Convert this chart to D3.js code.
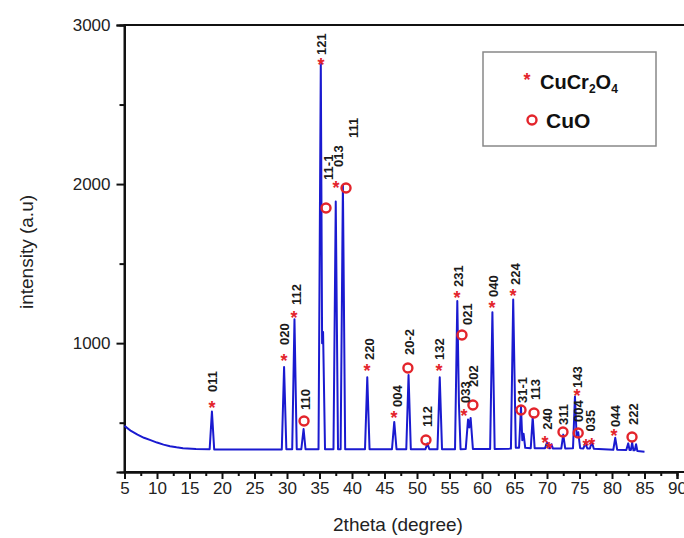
<!DOCTYPE html>
<html>
<head>
<meta charset="utf-8">
<script src="https://cdn.jsdelivr.net/npm/d3@7"></script>
<style>
  body { margin: 0; background: #fff; }
  svg { font-family: "Liberation Sans", Arial, sans-serif; }
</style>
</head>
<body>
<div id="container"></div>
<script>
/* CONSTANTS AND GLOBALS */
const width = 684,
  height = 538,
  margin = { top: 25, bottom: 66, left: 124.5, right: 7 },
  colors = { line: "#1a1ad0", mark: "#e3242b", axis: "#111" };

/* DATA */
// diffractogram: [2theta, intensity]
const spectrum = [
  [5, 480], [6, 448], [7, 425], [8, 405], [9, 390], [10, 375], [11, 362], [12, 352],
  [13, 345], [14, 340], [16, 335], [18.1, 333], [18.45, 570], [18.8, 332],
  [29.2, 332], [29.55, 850], [29.9, 333], [30.8, 333], [31.15, 1150], [31.5, 333],
  [32.2, 333], [32.55, 460], [32.85, 333], [34.85, 333], [35.2, 2770], [35.4, 1000],
  [35.55, 1070], [35.85, 333], [37.15, 333], [37.5, 1890], [37.85, 333], [38.25, 333],
  [38.6, 1995], [38.95, 333], [42.0, 333], [42.35, 785], [42.7, 333], [46.15, 333],
  [46.5, 505], [46.85, 333], [48.35, 333], [48.7, 800], [49.05, 333], [51.3, 333],
  [51.6, 370], [51.9, 333], [53.15, 333], [53.5, 785], [53.85, 333], [55.85, 333],
  [56.2, 1265], [56.45, 620], [56.7, 333], [57.5, 335], [57.85, 520], [58.05, 470],
  [58.25, 530], [58.6, 335], [61.25, 335], [61.6, 1195], [61.95, 335], [64.45, 337],
  [64.8, 1275], [65.2, 342], [65.7, 342], [66.0, 600], [66.2, 390], [66.4, 430],
  [66.65, 342], [67.5, 340], [67.8, 535], [68.1, 340], [69.7, 340], [70.0, 375],
  [70.3, 340], [70.5, 340], [70.7, 365], [70.9, 338], [72.2, 338], [72.5, 425],
  [72.8, 338], [74.0, 340], [74.3, 665], [74.55, 420], [74.8, 440], [75.1, 340],
  [75.6, 338], [75.9, 370], [76.2, 338], [76.6, 338], [76.9, 380], [77.2, 336],
  [80.2, 330], [80.5, 405], [80.8, 330], [82.2, 328], [82.5, 370], [82.7, 328],
  [82.9, 328], [83.1, 375], [83.3, 326], [83.5, 326], [83.7, 365], [83.9, 322], [85, 318]
];

// CuCr2O4 reflections: [hkl, marker 2theta, marker intensity, label 2theta, label intensity]
const spinelPeaks = [
  ["011", 18.46, 611, 18.46, 693],
  ["020", 29.54, 907, 29.6, 988],
  ["112", 31.08, 1177, 31.4, 1240],
  ["121", 35.23, 2767, 35.23, 2811],
  ["013", 37.54, 1994, 37.85, 2107],
  ["220", 42.31, 844, 42.6, 894],
  ["004", 46.46, 548, 46.92, 599],
  ["132", 53.38, 844, 53.5, 894],
  ["231", 56.15, 1303, 56.3, 1353],
  ["033", 57.23, 561, 57.38, 624],
  ["040", 61.54, 1240, 61.7, 1290],
  ["224", 64.77, 1315, 65.08, 1366],
  ["240", 69.69, 391, 70.05, 455],
  ["", 70.3, 355, 0, 0],
  ["143", 74.6, 687, 74.6, 718],
  ["", 76.0, 372, 0, 0],
  ["035", 76.9, 379, 76.7, 445],
  ["044", 80.3, 435, 80.46, 473]
];

// CuO reflections
const cuoPeaks = [
  ["110", 32.62, 511, 32.77, 580],
  ["11-1", 36.0, 1850, 36.3, 2026],
  ["111", 39.08, 1975, 40.15, 2290],
  ["20-2", 48.6, 844, 48.77, 925],
  ["112", 51.38, 391, 51.54, 473],
  ["021", 56.92, 1051, 57.69, 1114],
  ["202", 58.6, 611, 58.6, 724],
  ["31-1", 66.0, 580, 66.15, 624],
  ["113", 68.0, 561, 68.2, 643],
  ["311", 72.46, 441, 72.46, 485],
  ["004", 74.8, 435, 74.8, 504],
  ["222", 83.08, 410, 83.23, 485]
];

const xMajor = [5, 10, 15, 20, 25, 30, 35, 40, 45, 50, 55, 60, 65, 70, 75, 80, 85, 90];
const xMinor = [7.5, 12.5, 17.5, 22.5, 27.5, 32.5, 37.5, 42.5, 47.5, 52.5, 57.5, 62.5, 67.5, 72.5, 77.5, 82.5, 87.5];
const yMajor = [1000, 2000, 3000];
const yMinor = [500, 1500, 2500];

/* SCALES */
const xScale = d3.scaleLinear().domain([5, 90]).range([margin.left, 677]);
const yScale = d3.scaleLinear().domain([190, 3000]).range([height - margin.bottom, margin.top]);

const svg = d3.select("#container")
  .append("svg")
  .attr("width", width)
  .attr("height", height);

// frame (right side falls outside the picture)
svg.append("rect")
  .attr("x", margin.left)
  .attr("y", margin.top)
  .attr("width", 700 - margin.left)
  .attr("height", height - margin.bottom - margin.top)
  .attr("fill", "none")
  .attr("stroke", colors.axis)
  .attr("stroke-width", 2);

/* AXES */
svg.append("g")
  .attr("transform", `translate(0,${height - margin.bottom})`)
  .call(d3.axisBottom(xScale).tickValues(xMajor).tickSize(7).tickPadding(3).tickFormat(d3.format("d")));
svg.append("g")
  .attr("transform", `translate(0,${height - margin.bottom})`)
  .call(d3.axisBottom(xScale).tickValues(xMinor).tickSize(4).tickFormat(""));

svg.append("g")
  .attr("transform", `translate(${margin.left},0)`)
  .call(d3.axisLeft(yScale).tickValues(yMajor).tickSize(8).tickPadding(6).tickFormat(d3.format("d")));
svg.append("g")
  .attr("transform", `translate(${margin.left},0)`)
  .call(d3.axisLeft(yScale).tickValues(yMinor).tickSize(5).tickFormat(""));

svg.selectAll(".domain").attr("stroke", colors.axis).attr("stroke-width", 2);
svg.selectAll(".tick line").attr("stroke", colors.axis).attr("stroke-width", 2);
svg.selectAll(".tick text")
  .attr("font-size", "17px")
  .attr("font-family", "Liberation Sans, Arial, sans-serif")
  .attr("fill", "#222");

// axis titles
svg.append("text")
  .attr("x", 398)
  .attr("y", 531)
  .attr("text-anchor", "middle")
  .attr("font-size", "19px")
  .attr("fill", "#222")
  .text("2theta (degree)");

svg.append("text")
  .attr("transform", "translate(33,252) rotate(-90)")
  .attr("text-anchor", "middle")
  .attr("font-size", "19px")
  .attr("fill", "#222")
  .text("intensity (a.u)");

/* PATTERN */
const line = d3.line()
  .x(d => xScale(d[0]))
  .y(d => yScale(d[1]));

svg.append("path")
  .datum(spectrum)
  .attr("d", line)
  .attr("fill", "none")
  .attr("stroke", colors.line)
  .attr("stroke-width", 2)
  .attr("stroke-linejoin", "round");

/* MARKERS */
svg.selectAll(".star")
  .data(spinelPeaks)
  .join("text")
  .attr("class", "star")
  .attr("x", d => xScale(d[1]))
  .attr("y", d => yScale(d[2]) + 9)
  .attr("text-anchor", "middle")
  .attr("font-size", "18px")
  .attr("font-weight", "bold")
  .attr("fill", colors.mark)
  .text("*");

svg.selectAll(".ring")
  .data(cuoPeaks)
  .join("circle")
  .attr("class", "ring")
  .attr("cx", d => xScale(d[1]))
  .attr("cy", d => yScale(d[2]))
  .attr("r", 4.5)
  .attr("fill", "none")
  .attr("stroke", colors.mark)
  .attr("stroke-width", 2.4);

// hkl labels
svg.selectAll(".hkl")
  .data(spinelPeaks.concat(cuoPeaks).filter(d => d[0] !== ""))
  .join("text")
  .attr("class", "hkl")
  .attr("transform", d => `translate(${xScale(d[3])},${yScale(d[4])}) rotate(-90)`)
  .attr("dy", "0.36em")
  .attr("font-size", "13px")
  .attr("font-weight", "bold")
  .attr("fill", "#1a1a1a")
  .text(d => d[0]);

/* LEGEND */
const legend = svg.append("g");
legend.append("rect")
  .attr("x", 483).attr("y", 52)
  .attr("width", 173).attr("height", 94)
  .attr("fill", "#fff")
  .attr("stroke", "#888")
  .attr("stroke-width", 1.5);

legend.append("text")
  .attr("x", 527).attr("y", 86)
  .attr("text-anchor", "middle")
  .attr("font-size", "18px")
  .attr("font-weight", "bold")
  .attr("fill", colors.mark)
  .text("*");

const formula = legend.append("text")
  .attr("x", 540).attr("y", 89)
  .attr("font-size", "20px")
  .attr("font-weight", "bold")
  .attr("fill", "#111");
formula.append("tspan").text("CuCr");
formula.append("tspan").attr("font-size", "12px").attr("dy", 4).text("2");
formula.append("tspan").attr("dy", -4).text("O");
formula.append("tspan").attr("font-size", "12px").attr("dy", 4).text("4");

legend.append("circle")
  .attr("cx", 532).attr("cy", 120)
  .attr("r", 4.5)
  .attr("fill", "none")
  .attr("stroke", colors.mark)
  .attr("stroke-width", 2.4);

legend.append("text")
  .attr("x", 546).attr("y", 128)
  .attr("font-size", "21px")
  .attr("font-weight", "bold")
  .attr("fill", "#111")
  .text("CuO");
</script>
</body>
</html>
